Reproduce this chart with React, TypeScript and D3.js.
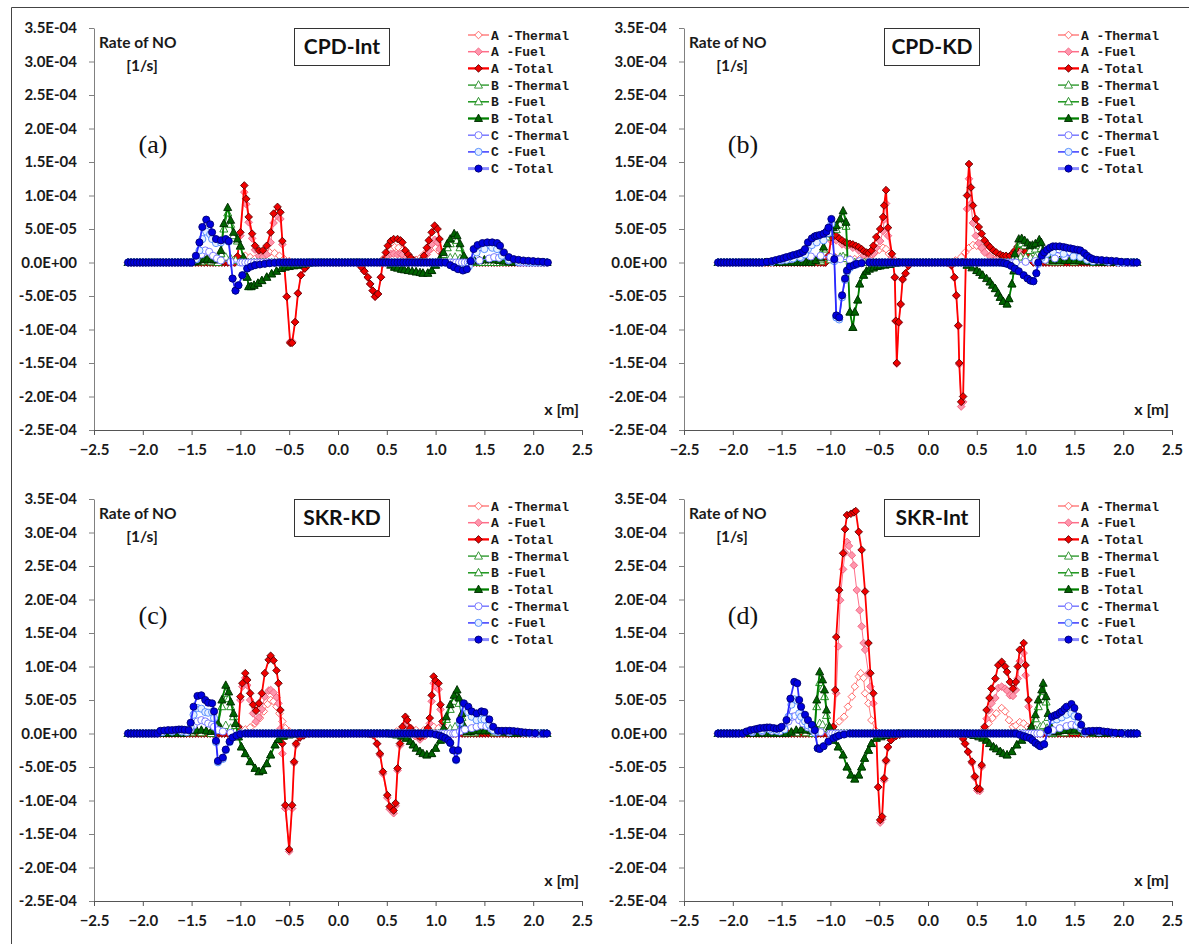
import React, { useEffect, useRef } from 'react';
import * as d3 from 'd3';

type Pt = [number, number];
type Seg = Pt[];

// values are in units of 1e-5 1/s
const W = 1189;
const H = 944;

// solution mesh along x (series sit on the baseline where they are zero)
const xMesh = d3.range(-2.15, 2.1501, 0.03);

const xTicks = [-2.5, -2.0, -1.5, -1.0, -0.5, 0.0, 0.5, 1.0, 1.5, 2.0, 2.5];
const yTicks = [-25, -20, -15, -10, -5, 0, 5, 10, 15, 20, 25, 30, 35];
const yTickLabels = ['-2.5E-04', '-2.0E-04', '-1.5E-04', '-1.0E-04', '-5.0E-05', '0.0E+00', '5.0E-05',
  '1.0E-04', '1.5E-04', '2.0E-04', '2.5E-04', '3.0E-04', '3.5E-04'];
const seriesNames = ['A -Thermal', 'A -Fuel', 'A -Total', 'B -Thermal', 'B -Fuel', 'B -Total',
  'C -Thermal', 'C -Fuel', 'C -Total'];
const panelTitles = ['CPD-Int', 'CPD-KD', 'SKR-KD', 'SKR-Int'];
const panelTags = ['(a)', '(b)', '(c)', '(d)'];

// ---- (a) CPD-Int ----
const aAT: Seg[] = [
  [[-1.05, 0], [-1.0, 0.5], [-0.95, 1.0], [-0.9, 0.8], [-0.85, 0.6], [-0.8, 0.8], [-0.75, 1.2], [-0.7, 1.5], [-0.65, 1.4], [-0.6, 1.0], [-0.55, 0.5], [-0.5, 0.2], [-0.45, 0]],
  [[0.42, 0], [0.46, 0.5], [0.5, 1.3], [0.54, 2.0], [0.58, 2.3], [0.62, 2.2], [0.66, 1.8], [0.7, 1.2], [0.75, 0.6], [0.8, 0.4], [0.85, 0.8], [0.9, 1.5], [0.95, 2.0], [1.0, 2.2], [1.04, 1.6], [1.08, 0.6], [1.12, 0]],
];
const aAF: Seg[] = [
  [[-1.06, 0], [-1.03, 0.7], [-1.0, 4.0], [-0.96, 10.5], [-0.94, 8.7], [-0.915, 6.0], [-0.88, 3.6], [-0.85, 1.9], [-0.81, 1.0], [-0.77, 0.8], [-0.73, 1.2], [-0.69, 3.0], [-0.66, 5.9], [-0.62, 6.9], [-0.59, 6.5], [-0.57, 2.7], [-0.525, -5.1], [-0.49, -11.8], [-0.47, -11.8], [-0.44, -8.9], [-0.41, -4.6], [-0.38, -1.9], [-0.34, -0.9], [-0.31, -0.4], [-0.27, 0]],
  [[0.2, 0], [0.24, -0.7], [0.27, -1.3], [0.305, -2.2], [0.33, -3.2], [0.356, -4.2], [0.38, -5.1], [0.41, -4.7], [0.44, -2.2], [0.46, -0.2], [0.49, 0.8], [0.51, 1.0], [0.54, 1.3], [0.57, 1.3], [0.61, 1.2], [0.64, 1.3], [0.66, 1.2], [0.69, 0.6], [0.72, 0.4], [0.745, 0.2], [0.78, 0], [0.85, 0], [0.88, 0.4], [0.91, 1.2], [0.93, 1.8], [0.96, 2.7], [0.99, 3.4], [1.02, 3.0], [1.04, 2.0], [1.07, 0.6], [1.1, 0], [1.13, 0]],
];
const aAX: Seg[] = [
  [[-1.06, 0], [-1.03, 0.9], [-1.0, 4.5], [-0.96, 11.5], [-0.94, 9.5], [-0.915, 6.8], [-0.88, 4.3], [-0.85, 2.5], [-0.81, 1.8], [-0.77, 1.8], [-0.73, 2.5], [-0.69, 4.5], [-0.66, 7.3], [-0.62, 8.3], [-0.59, 7.5], [-0.57, 3.2], [-0.525, -5.1], [-0.49, -12.0], [-0.47, -12.0], [-0.44, -8.9], [-0.41, -4.6], [-0.38, -1.9], [-0.34, -0.9], [-0.31, -0.4], [-0.27, 0]],
  [[0.2, 0], [0.24, -0.7], [0.27, -1.3], [0.305, -2.2], [0.33, -3.2], [0.356, -4.2], [0.38, -5.1], [0.41, -4.7], [0.44, -2.2], [0.46, 0.3], [0.49, 1.5], [0.51, 2.5], [0.54, 3.2], [0.57, 3.5], [0.61, 3.5], [0.64, 3.3], [0.66, 3.0], [0.69, 1.8], [0.72, 1.2], [0.745, 0.7], [0.78, 0.3], [0.81, 0], [0.85, 0.3], [0.88, 1.0], [0.91, 2.2], [0.93, 3.3], [0.96, 4.5], [0.99, 5.5], [1.02, 5.0], [1.04, 3.5], [1.07, 1.3], [1.1, 0.2], [1.13, 0]],
];
const aBT: Seg[] = [
  [[-1.5, 0], [-1.45, 0.2], [-1.4, 0.3], [-1.35, 0.3], [-1.3, 0.3], [-1.25, 0.3], [-1.2, 0.5], [-1.15, 0.8], [-1.1, 0.6], [-1.05, 0.3], [-1.0, 0.1], [-0.95, 0]],
  [[1.05, 0], [1.1, 0.4], [1.15, 0.7], [1.2, 0.8], [1.25, 0.6], [1.3, 0.3], [1.4, 0.2], [1.5, 0.3], [1.6, 0.3], [1.7, 0.2], [1.8, 0]],
];
const aBF: Seg[] = [
  [[-1.5, 0], [-1.4, 0.1], [-1.3, 0.1], [-1.23, 0], [-1.2, 1.3], [-1.17, 5.0], [-1.13, 7.4], [-1.1, 5.7], [-1.07, 4.0], [-1.03, 3.2], [-1.0, 2.4], [-0.97, 0.7], [-0.93, -2.2], [-0.915, -3.6], [-0.89, -3.6], [-0.86, -3.4], [-0.82, -3.1], [-0.78, -2.7], [-0.73, -2.2], [-0.68, -1.7], [-0.63, -1.3], [-0.58, -0.9], [-0.5, -0.6], [-0.41, -0.4], [-0.3, -0.1], [-0.2, 0]],
  [[0.5, 0], [0.58, -0.7], [0.65, -1.0], [0.72, -1.2], [0.8, -1.4], [0.87, -1.6], [0.92, -1.6], [0.96, -1.2], [1.0, -0.4], [1.04, 0.4], [1.08, 1.2], [1.12, 2.2], [1.15, 2.8], [1.19, 3.5], [1.22, 3.3], [1.25, 2.2], [1.29, 0.6], [1.32, 0], [1.4, 0]],
];
const aBX: Seg[] = [
  [[-1.5, 0], [-1.47, 0.1], [-1.44, 0.2], [-1.4, 0.4], [-1.37, 0.5], [-1.34, 0.5], [-1.3, 0.4], [-1.27, 0.4], [-1.25, 0.4], [-1.2, 1.8], [-1.17, 5.8], [-1.13, 8.2], [-1.1, 6.3], [-1.07, 4.5], [-1.03, 3.5], [-1.0, 2.5], [-0.97, 0.8], [-0.93, -2.2], [-0.915, -3.6], [-0.89, -3.6], [-0.86, -3.4], [-0.82, -3.1], [-0.78, -2.7], [-0.73, -2.2], [-0.68, -1.7], [-0.63, -1.3], [-0.58, -0.9], [-0.54, -0.7], [-0.5, -0.6], [-0.45, -0.5], [-0.41, -0.4], [-0.36, -0.25], [-0.3, -0.1], [-0.25, -0.05], [-0.2, 0]],
  [[0.5, 0], [0.54, -0.4], [0.58, -0.7], [0.61, -0.85], [0.65, -1.0], [0.68, -1.1], [0.72, -1.2], [0.76, -1.3], [0.8, -1.4], [0.84, -1.5], [0.87, -1.6], [0.92, -1.6], [0.96, -1.2], [1.0, -0.4], [1.04, 0.5], [1.08, 1.5], [1.12, 2.8], [1.15, 3.5], [1.19, 4.3], [1.22, 4.0], [1.25, 2.8], [1.29, 1.0], [1.32, 0.2], [1.36, 0.2], [1.4, 0.2], [1.45, 0.3], [1.5, 0.4], [1.55, 0.4], [1.6, 0.4], [1.65, 0.3], [1.7, 0.2], [1.75, 0.1], [1.8, 0]],
];
const aCT: Seg[] = [
  [[-1.5, 0], [-1.45, 0.5], [-1.4, 1.2], [-1.36, 1.8], [-1.32, 1.6], [-1.28, 1.0], [-1.24, 0.6], [-1.2, 0.3], [-1.1, 0.1], [-1.0, 0]],
  [[1.35, 0], [1.45, 0.3], [1.55, 0.6], [1.6, 0.8], [1.65, 0.7], [1.75, 0.3], [1.85, 0]],
];
const aCF: Seg[] = [
  [[-1.5, 0], [-1.456, 0.5], [-1.42, 1.8], [-1.39, 3.5], [-1.35, 4.6], [-1.31, 4.2], [-1.29, 3.5], [-1.25, 2.9], [-1.2, 3.0], [-1.15, 3.4], [-1.12, 3.1], [-1.08, -2.4], [-1.05, -4.2], [-1.02, -3.4], [-0.98, -1.9], [-0.93, -0.9], [-0.85, -0.4], [-0.7, -0.1], [-0.6, 0]],
  [[1.1, 0], [1.19, -0.7], [1.25, -1.0], [1.3, -1.1], [1.34, -0.6], [1.37, 0.3], [1.42, 1.5], [1.5, 2.0], [1.58, 2.2], [1.63, 2.0], [1.68, 1.0], [1.75, 0.4], [1.85, 0.1], [1.95, 0]],
];
const aCX: Seg[] = [
  [[-1.5, 0], [-1.456, 1.0], [-1.42, 3.0], [-1.39, 5.3], [-1.35, 6.4], [-1.31, 5.7], [-1.29, 4.5], [-1.25, 3.5], [-1.2, 3.3], [-1.15, 3.5], [-1.12, 3.2], [-1.08, -2.4], [-1.05, -4.2], [-1.02, -3.4], [-0.98, -1.9], [-0.93, -0.9], [-0.89, -0.6], [-0.85, -0.4], [-0.8, -0.3], [-0.75, -0.2], [-0.7, -0.1], [-0.65, -0.05], [-0.6, 0]],
  [[1.1, 0], [1.15, -0.4], [1.19, -0.7], [1.23, -1.0], [1.28, -1.2], [1.32, -1.0], [1.36, 0.2], [1.39, 2.0], [1.43, 2.6], [1.48, 2.9], [1.53, 3.0], [1.58, 3.0], [1.63, 2.9], [1.66, 2.5], [1.7, 1.5], [1.75, 0.8], [1.8, 0.5], [1.85, 0.4], [1.9, 0.3], [1.95, 0.25], [2.0, 0.2], [2.05, 0.15], [2.1, 0.1], [2.15, 0]],
];

// ---- (b) CPD-KD ----
const bAT: Seg[] = [
  [[-1.05, 0], [-1.0, 0.5], [-0.95, 0.8], [-0.9, 0.7], [-0.85, 0.6], [-0.8, 0.5], [-0.75, 0.5], [-0.7, 0.5], [-0.65, 0.6], [-0.6, 0.9], [-0.55, 1.4], [-0.5, 1.9], [-0.46, 2.2], [-0.43, 2.0], [-0.4, 1.3], [-0.37, 0.6], [-0.33, 0.2], [-0.28, 0]],
  [[0.2, 0], [0.28, 0.3], [0.34, 0.8], [0.38, 1.5], [0.42, 2.2], [0.46, 2.6], [0.5, 2.5], [0.55, 2.1], [0.6, 1.6], [0.65, 1.2], [0.7, 0.9], [0.75, 0.7], [0.8, 0.6], [0.85, 0.8], [0.9, 1.2], [0.95, 1.4], [1.0, 1.0], [1.05, 0.4], [1.1, 0]],
];
const bAF: Seg[] = [
  [[-1.05, 0], [-1.02, 0.6], [-0.99, 3.2], [-0.94, 3.3], [-0.88, 2.7], [-0.83, 2.4], [-0.77, 2.2], [-0.71, 1.8], [-0.66, 1.1], [-0.61, 0.6], [-0.56, 1.3], [-0.53, 2.2], [-0.49, 3.2], [-0.46, 4.7], [-0.45, 6.4], [-0.43, 8.8], [-0.41, 4.0], [-0.37, 0.8], [-0.34, -2.3], [-0.33, -8.8], [-0.32, -15.1], [-0.3, -9.0], [-0.28, -6.3], [-0.26, -2.6], [-0.23, -1.7], [-0.2, -0.5], [-0.17, 0]],
  [[0.2, 0], [0.24, -0.5], [0.27, -2.3], [0.29, -5.0], [0.31, -9.5], [0.32, -15.2], [0.34, -21.5], [0.36, -20.8], [0.4, 8.0], [0.42, 12.5], [0.44, 8.8], [0.46, 5.9], [0.49, 4.0], [0.52, 2.9], [0.55, 2.2], [0.58, 1.5], [0.635, 0.9], [0.7, 0.6], [0.77, 0.4], [0.84, 0.4], [0.89, 0.8], [0.94, 1.4], [0.98, 1.3], [1.03, 0.6], [1.08, 0]],
];
const bAX: Seg[] = [
  [[-1.05, 0], [-1.02, 1.0], [-0.99, 3.8], [-0.96, 4.0], [-0.94, 4.0], [-0.91, 3.6], [-0.88, 3.3], [-0.85, 3.0], [-0.83, 2.9], [-0.8, 2.8], [-0.77, 2.7], [-0.74, 2.5], [-0.71, 2.3], [-0.68, 2.0], [-0.66, 1.7], [-0.63, 1.5], [-0.61, 1.4], [-0.58, 1.8], [-0.56, 2.5], [-0.53, 3.8], [-0.49, 5.0], [-0.46, 6.8], [-0.45, 8.5], [-0.43, 10.8], [-0.41, 5.2], [-0.37, 1.3], [-0.34, -2.2], [-0.33, -8.7], [-0.32, -15.0], [-0.3, -8.9], [-0.28, -6.2], [-0.26, -2.5], [-0.23, -1.6], [-0.2, -0.5], [-0.17, 0]],
  [[0.2, 0], [0.24, -0.4], [0.27, -2.2], [0.29, -4.9], [0.31, -9.4], [0.32, -15.0], [0.34, -20.8], [0.36, -20.0], [0.4, 10.0], [0.42, 14.7], [0.44, 11.2], [0.46, 8.5], [0.49, 6.5], [0.52, 5.3], [0.55, 4.3], [0.58, 3.3], [0.61, 2.7], [0.635, 2.3], [0.67, 1.8], [0.7, 1.5], [0.74, 1.2], [0.77, 1.0], [0.8, 1.0], [0.84, 1.0], [0.87, 1.4], [0.89, 1.8], [0.92, 2.4], [0.94, 2.8], [0.96, 2.6], [0.98, 2.3], [1.0, 1.6], [1.03, 1.0], [1.05, 0.5], [1.08, 0]],
];
const bBT: Seg[] = [
  [[-1.2, 0], [-1.1, 0.2], [-1.0, 0.4], [-0.95, 0.6], [-0.9, 0.8], [-0.87, 0.9], [-0.84, 0.6], [-0.8, 0.2], [-0.75, 0]],
  [[0.85, 0], [0.9, 0.4], [0.95, 0.8], [1.0, 0.8], [1.05, 0.7], [1.1, 0.8], [1.15, 0.9], [1.2, 0.5], [1.25, 0.2], [1.3, 0.1], [1.5, 0.2], [1.7, 0.1], [1.8, 0]],
];
const bBF: Seg[] = [
  [[-1.2, 0], [-1.1, 0.5], [-1.07, 2.0], [-1.04, 3.8], [-1.0, 4.4], [-0.94, 4.9], [-0.9, 5.7], [-0.87, 6.8], [-0.84, 5.4], [-0.8, -7.4], [-0.77, -9.7], [-0.75, -7.4], [-0.72, -5.6], [-0.7, -3.2], [-0.66, -1.9], [-0.63, -1.3], [-0.56, -0.8], [-0.49, -0.5], [-0.39, -0.3], [-0.3, 0]],
  [[0.35, 0], [0.4, -0.4], [0.5, -1.2], [0.56, -1.9], [0.635, -2.9], [0.69, -3.9], [0.74, -5.2], [0.77, -5.8], [0.81, -6.2], [0.83, -5.4], [0.86, -3.2], [0.88, -1.3], [0.89, 0.9], [0.93, 2.7], [0.96, 2.8], [0.99, 2.5], [1.045, 1.8], [1.1, 2.0], [1.14, 2.5], [1.16, 2.1], [1.18, 1.3], [1.22, 0.6], [1.28, 0.2], [1.35, 0.1], [1.5, 0.1], [1.7, 0], [1.8, 0]],
];
const bBX: Seg[] = [
  [[-1.2, 0], [-1.15, 0.3], [-1.1, 0.7], [-1.07, 2.3], [-1.04, 4.3], [-1.0, 4.9], [-0.97, 5.2], [-0.94, 5.5], [-0.9, 6.5], [-0.87, 7.7], [-0.84, 6.0], [-0.8, -7.4], [-0.77, -9.7], [-0.75, -7.4], [-0.72, -5.6], [-0.7, -3.2], [-0.66, -1.9], [-0.63, -1.3], [-0.6, -1.0], [-0.56, -0.8], [-0.52, -0.6], [-0.49, -0.5], [-0.44, -0.4], [-0.39, -0.3], [-0.34, -0.15], [-0.3, 0]],
  [[0.35, 0], [0.4, -0.4], [0.45, -0.8], [0.5, -1.2], [0.53, -1.5], [0.56, -1.9], [0.6, -2.4], [0.635, -2.9], [0.66, -3.4], [0.69, -3.9], [0.72, -4.6], [0.74, -5.2], [0.77, -5.8], [0.81, -6.2], [0.83, -5.4], [0.86, -3.2], [0.88, -1.2], [0.89, 1.3], [0.93, 3.5], [0.96, 3.6], [0.99, 3.3], [1.02, 2.9], [1.045, 2.5], [1.07, 2.6], [1.1, 2.8], [1.14, 3.4], [1.16, 3.0], [1.18, 1.8], [1.22, 0.8], [1.25, 0.5], [1.28, 0.3], [1.35, 0.3], [1.4, 0.3], [1.45, 0.3], [1.5, 0.3], [1.55, 0.25], [1.6, 0.2], [1.65, 0.15], [1.7, 0.1], [1.75, 0.05], [1.8, 0]],
];
const bCT: Seg[] = [
  [[-1.7, 0], [-1.6, 0.1], [-1.5, 0.3], [-1.4, 0.5], [-1.3, 0.7], [-1.2, 0.9], [-1.1, 1.0], [-1.0, 0.8], [-0.95, 0.6], [-0.9, 0.5], [-0.8, 0.4], [-0.7, 0.2], [-0.6, 0.1], [-0.5, 0]],
  [[0.9, 0], [1.0, 0.1], [1.1, 0.2], [1.2, 0.4], [1.3, 0.6], [1.4, 0.9], [1.5, 1.1], [1.58, 1.0], [1.65, 0.6], [1.75, 0.3], [1.85, 0.1], [1.95, 0]],
];
const bCF: Seg[] = [
  [[-1.7, 0], [-1.6, 0.1], [-1.52, 0.3], [-1.45, 0.4], [-1.38, 0.6], [-1.31, 0.8], [-1.26, 1.2], [-1.23, 2.0], [-1.19, 2.6], [-1.14, 3.0], [-1.07, 3.3], [-1.02, 4.4], [-0.99, 5.8], [-0.96, 0.2], [-0.94, -8.2], [-0.91, -8.5], [-0.88, -5.2], [-0.85, -2.6], [-0.83, -1.4], [-0.8, -0.8], [-0.73, -0.3], [-0.6, 0]],
  [[0.75, 0], [0.81, -0.2], [0.89, -0.9], [0.98, -1.9], [1.05, -2.7], [1.08, -2.8], [1.11, -1.6], [1.13, -0.2], [1.165, 0.7], [1.22, 1.3], [1.28, 1.6], [1.39, 1.3], [1.49, 0.9], [1.56, 0.8], [1.63, 0.4], [1.69, 0.2], [1.83, 0.2], [1.95, 0]],
];
const bCX: Seg[] = [
  [[-1.7, 0], [-1.65, 0.1], [-1.6, 0.2], [-1.56, 0.35], [-1.52, 0.5], [-1.48, 0.65], [-1.45, 0.8], [-1.41, 0.95], [-1.38, 1.1], [-1.34, 1.25], [-1.31, 1.4], [-1.28, 1.6], [-1.26, 2.0], [-1.23, 3.0], [-1.19, 3.6], [-1.16, 3.9], [-1.14, 4.0], [-1.11, 4.1], [-1.07, 4.3], [-1.04, 4.6], [-1.02, 5.2], [-0.99, 6.5], [-0.96, 0.5], [-0.94, -7.9], [-0.91, -8.2], [-0.88, -4.9], [-0.85, -2.4], [-0.83, -1.2], [-0.8, -0.6], [-0.76, -0.4], [-0.73, -0.2], [-0.68, -0.1], [-0.6, 0]],
  [[0.75, 0], [0.78, -0.1], [0.81, -0.2], [0.85, -0.5], [0.89, -0.9], [0.93, -1.3], [0.98, -1.9], [1.02, -2.4], [1.05, -2.7], [1.08, -2.8], [1.11, -1.6], [1.13, 0], [1.165, 1.0], [1.19, 1.5], [1.22, 1.9], [1.25, 2.2], [1.28, 2.4], [1.31, 2.4], [1.35, 2.4], [1.39, 2.3], [1.42, 2.2], [1.46, 2.1], [1.49, 2.0], [1.53, 1.9], [1.56, 1.8], [1.6, 1.4], [1.63, 1.0], [1.66, 0.7], [1.69, 0.5], [1.73, 0.4], [1.78, 0.35], [1.83, 0.3], [1.88, 0.25], [1.93, 0.2], [1.98, 0.1], [2.04, 0.05], [2.1, 0]],
];

// ---- (c) SKR-KD ----
const cAT: Seg[] = [
  [[-1.05, 0], [-1.0, 0.3], [-0.95, 0.6], [-0.9, 0.9], [-0.85, 1.5], [-0.8, 2.3], [-0.76, 3.3], [-0.72, 4.4], [-0.69, 5.0], [-0.66, 4.8], [-0.63, 4.0], [-0.6, 3.0], [-0.57, 1.8], [-0.54, 0.8], [-0.5, 0.3], [-0.45, 0]],
  [[0.5, 0], [0.6, 0.3], [0.66, 0.8], [0.7, 1.0], [0.75, 0.8], [0.8, 0.5], [0.88, 0.5], [0.94, 0.8], [0.98, 1.0], [1.03, 0.8], [1.08, 0.3], [1.12, 0]],
];
const cAF: Seg[] = [
  [[-1.05, 0], [-1.02, 0.8], [-1.0, 5.0], [-0.98, 7.0], [-0.95, 8.3], [-0.93, 7.2], [-0.9, 5.0], [-0.87, 3.0], [-0.84, 1.8], [-0.81, 2.4], [-0.78, 3.6], [-0.75, 5.5], [-0.71, 6.4], [-0.69, 6.5], [-0.66, 6.1], [-0.63, 5.4], [-0.61, 4.5], [-0.59, 0.7], [-0.57, -3.0], [-0.54, -11.2], [-0.5, -17.6], [-0.47, -11.2], [-0.45, -4.4], [-0.43, -1.7], [-0.39, -0.6], [-0.3, 0]],
  [[0.3, 0], [0.36, -0.3], [0.4, -1.6], [0.43, -3.2], [0.46, -6.0], [0.505, -9.6], [0.53, -11.3], [0.57, -11.9], [0.59, -10.8], [0.61, -5.5], [0.635, -1.8], [0.66, 0.3], [0.69, 1.5], [0.71, 1.1], [0.74, 0.1], [0.79, -0.4], [0.84, -0.9], [0.89, -0.4], [0.94, 1.5], [0.96, 4.8], [0.98, 7.5], [1.0, 7.0], [1.03, 6.6], [1.05, 3.6], [1.07, 1.3], [1.1, 0.3], [1.15, 0]],
];
const cAX: Seg[] = [
  [[-1.05, 0], [-1.02, 1.0], [-1.0, 5.5], [-0.98, 7.5], [-0.95, 9.0], [-0.93, 8.0], [-0.9, 6.0], [-0.87, 4.3], [-0.84, 3.4], [-0.81, 4.5], [-0.78, 6.0], [-0.75, 9.0], [-0.71, 11.0], [-0.69, 11.6], [-0.66, 10.9], [-0.63, 9.4], [-0.61, 7.5], [-0.59, 3.5], [-0.57, -1.5], [-0.54, -10.7], [-0.5, -17.3], [-0.47, -10.7], [-0.45, -4.2], [-0.43, -1.5], [-0.39, -0.6], [-0.35, -0.3], [-0.3, 0]],
  [[0.3, 0], [0.33, -0.1], [0.36, -0.2], [0.4, -1.5], [0.43, -3.0], [0.46, -5.7], [0.505, -9.2], [0.53, -10.9], [0.57, -11.5], [0.59, -10.4], [0.61, -5.2], [0.635, -1.5], [0.66, 1.0], [0.69, 2.5], [0.71, 2.0], [0.74, 0.8], [0.77, 0.2], [0.79, 0], [0.82, -0.3], [0.84, -0.5], [0.87, -0.3], [0.89, 0], [0.92, 0.8], [0.94, 2.3], [0.96, 5.7], [0.98, 8.5], [1.0, 7.9], [1.03, 7.5], [1.05, 4.3], [1.07, 1.8], [1.1, 0.5], [1.15, 0]],
];
const cBT: Seg[] = [
  [[-1.6, 0], [-1.5, 0.3], [-1.45, 0.4], [-1.4, 0.4], [-1.35, 0.3], [-1.3, 0.2], [-1.25, 0.4], [-1.2, 0.8], [-1.15, 1.2], [-1.1, 0.8], [-1.05, 0.4], [-1.0, 0.1], [-0.95, 0]],
  [[1.05, 0], [1.1, 0.3], [1.15, 0.7], [1.2, 1.0], [1.25, 0.8], [1.3, 0.4], [1.4, 0.3], [1.5, 0.4], [1.6, 0.3], [1.7, 0.1], [1.8, 0]],
];
const cBF: Seg[] = [
  [[-1.6, 0], [-1.5, 0.1], [-1.4, 0.1], [-1.3, 0], [-1.23, 1.0], [-1.19, 4.0], [-1.15, 6.0], [-1.12, 5.2], [-1.1, 4.0], [-1.07, 2.5], [-1.05, 1.2], [-1.02, -0.5], [-0.99, -2.0], [-0.95, -3.0], [-0.9, -4.2], [-0.85, -5.2], [-0.81, -5.7], [-0.77, -5.5], [-0.73, -4.5], [-0.69, -3.2], [-0.645, -1.7], [-0.61, -0.9], [-0.56, -0.4], [-0.5, -0.2], [-0.4, 0]],
  [[0.5, 0], [0.6, -0.2], [0.7, -0.7], [0.77, -1.7], [0.84, -2.7], [0.91, -3.2], [0.96, -3.0], [1.0, -2.2], [1.05, -1.0], [1.08, 0.6], [1.11, 2.1], [1.15, 3.6], [1.19, 4.8], [1.22, 5.5], [1.24, 4.5], [1.27, 2.4], [1.29, 0.8], [1.32, 0.1], [1.4, 0.1], [1.6, 0.1], [1.8, 0]],
];
const cBX: Seg[] = [
  [[-1.6, 0], [-1.55, 0.2], [-1.5, 0.4], [-1.45, 0.5], [-1.4, 0.5], [-1.35, 0.4], [-1.3, 0.3], [-1.26, 0.5], [-1.23, 1.5], [-1.19, 5.0], [-1.15, 7.2], [-1.12, 6.2], [-1.1, 4.7], [-1.07, 3.0], [-1.05, 1.5], [-1.02, -0.5], [-0.99, -2.0], [-0.95, -3.0], [-0.9, -4.2], [-0.85, -5.2], [-0.81, -5.7], [-0.77, -5.5], [-0.73, -4.5], [-0.69, -3.2], [-0.645, -1.7], [-0.61, -0.9], [-0.56, -0.4], [-0.5, -0.2], [-0.45, -0.1], [-0.4, 0]],
  [[0.5, 0], [0.55, -0.1], [0.6, -0.2], [0.65, -0.4], [0.7, -0.7], [0.74, -1.2], [0.77, -1.7], [0.8, -2.2], [0.84, -2.7], [0.87, -3.0], [0.91, -3.2], [0.96, -3.0], [1.0, -2.2], [1.05, -1.0], [1.08, 0.8], [1.11, 2.5], [1.15, 4.3], [1.19, 5.7], [1.22, 6.5], [1.24, 5.3], [1.27, 3.0], [1.29, 1.2], [1.32, 0.3], [1.36, 0.3], [1.4, 0.4], [1.45, 0.4], [1.5, 0.4], [1.55, 0.4], [1.6, 0.4], [1.65, 0.3], [1.7, 0.2], [1.75, 0.1], [1.8, 0]],
];
const cCT: Seg[] = [
  [[-1.85, 0], [-1.8, 0.2], [-1.7, 0.3], [-1.6, 0.3], [-1.55, 0.4], [-1.51, 0.6], [-1.48, 1.2], [-1.44, 1.8], [-1.4, 2.0], [-1.36, 1.8], [-1.33, 1.5], [-1.29, 1.3], [-1.27, 1.0], [-1.23, 0.5], [-1.18, 0.3], [-1.1, 0.1], [-1.0, 0]],
  [[1.2, 0], [1.25, 0.3], [1.3, 0.6], [1.37, 0.8], [1.42, 1.0], [1.47, 1.2], [1.52, 1.1], [1.57, 0.7], [1.63, 0.3], [1.75, 0.2], [1.9, 0.1], [2.0, 0]],
];
const cCF: Seg[] = [
  [[-1.85, 0], [-1.8, 0.2], [-1.7, 0.3], [-1.6, 0.3], [-1.55, 0.2], [-1.51, 1.0], [-1.48, 2.8], [-1.44, 3.8], [-1.4, 3.7], [-1.36, 3.2], [-1.33, 3.1], [-1.29, 3.2], [-1.27, 2.3], [-1.25, -1.3], [-1.23, -4.3], [-1.18, -3.8], [-1.15, -2.5], [-1.11, -1.3], [-1.08, -0.6], [-1.04, -0.3], [-0.95, 0]],
  [[0.95, 0], [1.04, -0.3], [1.1, -0.7], [1.15, -1.4], [1.18, -2.5], [1.21, -4.0], [1.23, -2.6], [1.25, 1.6], [1.29, 3.9], [1.335, 3.2], [1.37, 2.5], [1.42, 2.0], [1.47, 2.1], [1.5, 2.1], [1.55, 1.3], [1.59, 0.5], [1.64, 0.2], [1.76, 0.2], [1.96, 0], [2.05, 0]],
];
const cCX: Seg[] = [
  [[-1.85, 0], [-1.82, 0.4], [-1.78, 0.45], [-1.74, 0.5], [-1.7, 0.5], [-1.66, 0.55], [-1.63, 0.6], [-1.6, 0.6], [-1.57, 0.55], [-1.53, 0.5], [-1.51, 1.6], [-1.48, 4.0], [-1.44, 5.6], [-1.4, 5.7], [-1.36, 5.0], [-1.33, 4.6], [-1.29, 4.5], [-1.27, 3.3], [-1.25, -1.1], [-1.23, -4.1], [-1.18, -3.6], [-1.15, -2.4], [-1.11, -1.2], [-1.08, -0.6], [-1.04, -0.3], [-1.0, -0.1], [-0.95, 0]],
  [[0.95, 0], [1.0, -0.15], [1.04, -0.3], [1.07, -0.5], [1.1, -0.7], [1.13, -1.0], [1.15, -1.4], [1.18, -2.5], [1.21, -3.9], [1.23, -2.5], [1.25, 2.0], [1.29, 4.5], [1.335, 4.0], [1.37, 3.3], [1.42, 3.0], [1.47, 3.3], [1.5, 3.2], [1.55, 2.1], [1.59, 1.0], [1.64, 0.4], [1.68, 0.4], [1.72, 0.4], [1.76, 0.4], [1.8, 0.35], [1.84, 0.3], [1.88, 0.2], [1.92, 0.15], [1.96, 0.1], [2.02, 0.05], [2.1, 0]],
];

// ---- (d) SKR-Int ----
const dAT: Seg[] = [
  [[-1.0, 0], [-0.97, 0.5], [-0.91, 1.8], [-0.86, 2.5], [-0.82, 4.0], [-0.78, 5.5], [-0.75, 7.0], [-0.71, 8.5], [-0.69, 9.0], [-0.66, 8.3], [-0.645, 6.0], [-0.61, 4.5], [-0.58, 2.0], [-0.54, 0.5], [-0.5, 0]],
  [[0.5, 0], [0.55, 0.3], [0.58, 0.8], [0.62, 1.5], [0.66, 2.3], [0.7, 3.0], [0.755, 3.8], [0.79, 3.3], [0.83, 2.0], [0.87, 1.0], [0.9, 1.2], [0.94, 1.7], [0.98, 1.5], [1.02, 1.0], [1.06, 0.3], [1.1, 0]],
];
const dAF: Seg[] = [
  [[-1.0, 0], [-0.97, 0.5], [-0.94, 6.0], [-0.92, 13.0], [-0.9, 19.9], [-0.87, 24.5], [-0.85, 27.0], [-0.83, 28.6], [-0.81, 28.0], [-0.78, 26.6], [-0.76, 25.1], [-0.73, 21.4], [-0.7, 18.4], [-0.68, 16.0], [-0.66, 13.5], [-0.645, 12.5], [-0.61, 9.0], [-0.59, 7.0], [-0.56, 4.5], [-0.53, -0.5], [-0.51, -8.0], [-0.49, -13.3], [-0.47, -12.8], [-0.45, -7.0], [-0.43, -4.2], [-0.41, -2.1], [-0.38, -1.0], [-0.33, -0.4], [-0.25, 0]],
  [[0.3, 0], [0.33, -0.1], [0.38, -1.6], [0.41, -2.8], [0.45, -4.4], [0.48, -6.6], [0.505, -8.5], [0.53, -8.6], [0.55, -5.0], [0.58, 0.2], [0.6, 2.2], [0.63, 3.5], [0.65, 4.5], [0.69, 5.3], [0.72, 6.8], [0.755, 7.0], [0.79, 6.7], [0.81, 6.4], [0.84, 5.7], [0.87, 5.6], [0.9, 6.5], [0.92, 8.2], [0.94, 10.8], [0.98, 12.0], [1.0, 8.7], [1.03, 4.0], [1.06, 0.7], [1.08, 0], [1.12, 0]],
];
const dAX: Seg[] = [
  [[-1.0, 0], [-0.97, 1.0], [-0.95, 6.5], [-0.94, 14.4], [-0.91, 21.4], [-0.87, 26.9], [-0.85, 30.5], [-0.83, 32.6], [-0.79, 32.8], [-0.76, 33.0], [-0.74, 33.2], [-0.71, 30.1], [-0.68, 27.4], [-0.645, 21.2], [-0.61, 13.5], [-0.59, 9.0], [-0.56, 6.0], [-0.53, 0], [-0.51, -8.0], [-0.49, -12.9], [-0.47, -12.4], [-0.45, -6.7], [-0.43, -4.0], [-0.41, -2.0], [-0.38, -1.0], [-0.33, -0.4], [-0.29, -0.2], [-0.25, 0]],
  [[0.3, 0], [0.33, 0], [0.36, -0.8], [0.38, -1.5], [0.41, -2.7], [0.45, -4.2], [0.48, -6.4], [0.505, -8.2], [0.53, -8.3], [0.55, -4.7], [0.58, 1.0], [0.6, 3.5], [0.63, 5.3], [0.65, 6.7], [0.69, 8.2], [0.72, 10.2], [0.755, 10.7], [0.79, 10.0], [0.81, 9.2], [0.84, 7.7], [0.87, 6.7], [0.9, 7.7], [0.92, 10.0], [0.94, 12.5], [0.98, 13.5], [1.0, 10.2], [1.03, 5.0], [1.06, 1.0], [1.08, 0], [1.12, 0]],
];
const dBT: Seg[] = [
  [[-1.45, 0], [-1.4, 0.2], [-1.35, 0.4], [-1.3, 0.5], [-1.25, 0.4], [-1.2, 0.5], [-1.16, 0.8], [-1.11, 1.5], [-1.08, 1.3], [-1.04, 0.8], [-1.0, 0.3], [-0.95, 0]],
  [[1.0, 0], [1.06, 0.3], [1.1, 0.6], [1.15, 1.0], [1.18, 1.2], [1.22, 0.8], [1.26, 0.4], [1.35, 0.2], [1.5, 0.3], [1.6, 0.2], [1.7, 0]],
];
const dBF: Seg[] = [
  [[-1.45, 0], [-1.35, 0.1], [-1.25, 0.1], [-1.18, 0], [-1.16, 0.3], [-1.14, 4.0], [-1.11, 7.6], [-1.08, 6.7], [-1.06, 5.5], [-1.04, 2.7], [-1.01, 0.6], [-0.97, -1.0], [-0.92, -2.0], [-0.87, -3.2], [-0.83, -5.0], [-0.79, -6.2], [-0.75, -6.8], [-0.71, -6.2], [-0.68, -5.0], [-0.65, -3.7], [-0.61, -2.5], [-0.58, -1.5], [-0.53, -0.7], [-0.43, -0.3], [-0.3, 0]],
  [[0.4, 0], [0.47, -0.3], [0.6, -1.0], [0.67, -2.0], [0.74, -2.7], [0.81, -3.2], [0.86, -2.7], [0.91, -1.7], [0.96, -1.0], [1.0, -0.5], [1.06, 0.7], [1.1, 2.2], [1.13, 4.0], [1.165, 5.5], [1.18, 6.3], [1.21, 4.7], [1.23, 2.4], [1.26, 0.7], [1.28, 0], [1.4, 0.1], [1.6, 0.1], [1.7, 0]],
];
const dBX: Seg[] = [
  [[-1.45, 0], [-1.4, 0.2], [-1.35, 0.5], [-1.3, 0.6], [-1.25, 0.5], [-1.2, 0.4], [-1.16, 1.0], [-1.14, 5.0], [-1.11, 9.2], [-1.08, 8.0], [-1.06, 6.5], [-1.04, 3.5], [-1.01, 1.0], [-0.97, -1.0], [-0.92, -2.0], [-0.87, -3.2], [-0.83, -5.0], [-0.79, -6.2], [-0.75, -6.8], [-0.71, -6.2], [-0.68, -5.0], [-0.65, -3.7], [-0.61, -2.5], [-0.58, -1.5], [-0.53, -0.7], [-0.48, -0.5], [-0.43, -0.3], [-0.37, -0.15], [-0.3, 0]],
  [[0.4, 0], [0.44, -0.15], [0.47, -0.3], [0.52, -0.5], [0.56, -0.7], [0.6, -1.0], [0.63, -1.5], [0.67, -2.0], [0.7, -2.3], [0.74, -2.7], [0.77, -3.0], [0.81, -3.2], [0.86, -2.7], [0.91, -1.7], [0.96, -1.0], [1.0, -0.5], [1.03, 0.2], [1.06, 1.0], [1.1, 2.8], [1.13, 5.0], [1.165, 6.5], [1.18, 7.5], [1.21, 5.5], [1.23, 3.0], [1.26, 1.0], [1.28, 0.2], [1.32, 0.3], [1.35, 0.4], [1.4, 0.45], [1.45, 0.5], [1.5, 0.5], [1.55, 0.5], [1.6, 0.35], [1.65, 0.2], [1.7, 0.1], [1.75, 0]],
];
const dCT: Seg[] = [
  [[-1.9, 0], [-1.8, 0.2], [-1.7, 0.3], [-1.6, 0.4], [-1.52, 0.3], [-1.47, 0.8], [-1.43, 1.8], [-1.39, 2.5], [-1.36, 2.6], [-1.32, 2.0], [-1.28, 1.5], [-1.23, 0.9], [-1.18, 0.5], [-1.1, 0.2], [-1.0, 0]],
  [[1.15, 0], [1.23, 0.2], [1.28, 0.5], [1.35, 0.8], [1.42, 1.1], [1.47, 1.3], [1.52, 1.2], [1.57, 0.7], [1.63, 0.3], [1.75, 0.2], [1.9, 0.1], [2.0, 0]],
];
const dCF: Seg[] = [
  [[-1.9, 0], [-1.8, 0.3], [-1.7, 0.5], [-1.62, 0.6], [-1.55, 0.4], [-1.47, 0.6], [-1.43, 2.5], [-1.4, 4.3], [-1.37, 5.1], [-1.34, 4.9], [-1.32, 3.0], [-1.3, 2.5], [-1.26, 1.8], [-1.23, 1.2], [-1.19, 0.8], [-1.16, 0.1], [-1.13, -2.2], [-1.11, -2.3], [-1.07, -1.9], [-1.02, -1.2], [-0.97, -0.7], [-0.91, -0.3], [-0.8, 0]],
  [[0.9, 0], [0.98, -0.3], [1.045, -0.7], [1.1, -1.4], [1.15, -1.9], [1.19, -1.6], [1.23, 0.3], [1.27, 2.0], [1.32, 2.1], [1.37, 2.4], [1.42, 2.8], [1.47, 3.0], [1.5, 2.6], [1.54, 1.7], [1.57, 0.9], [1.61, 0.1], [1.76, 0.2], [1.9, 0], [2.0, 0]],
];
const dCX: Seg[] = [
  [[-1.9, 0], [-1.86, 0.3], [-1.82, 0.5], [-1.78, 0.6], [-1.75, 0.7], [-1.72, 0.8], [-1.68, 0.85], [-1.65, 0.9], [-1.62, 0.9], [-1.58, 0.8], [-1.55, 0.7], [-1.52, 0.8], [-1.5, 1.0], [-1.45, 2.0], [-1.41, 5.2], [-1.37, 7.7], [-1.34, 7.5], [-1.32, 5.0], [-1.3, 4.0], [-1.26, 2.8], [-1.23, 2.0], [-1.19, 1.3], [-1.16, 0.5], [-1.13, -2.2], [-1.11, -2.3], [-1.07, -1.9], [-1.02, -1.2], [-0.97, -0.7], [-0.94, -0.5], [-0.91, -0.3], [-0.86, -0.15], [-0.8, 0]],
  [[0.9, 0], [0.94, -0.2], [0.98, -0.4], [1.01, -0.55], [1.045, -0.7], [1.07, -1.0], [1.1, -1.4], [1.13, -1.7], [1.15, -1.9], [1.19, -1.6], [1.23, 0.5], [1.27, 2.5], [1.3, 2.7], [1.32, 2.8], [1.35, 3.1], [1.37, 3.3], [1.4, 3.7], [1.42, 4.0], [1.47, 4.4], [1.5, 3.8], [1.54, 2.5], [1.57, 1.3], [1.61, 0.3], [1.65, 0.35], [1.69, 0.4], [1.73, 0.4], [1.76, 0.4], [1.8, 0.3], [1.84, 0.25], [1.88, 0.15], [1.92, 0.1], [1.98, 0.05], [2.05, 0]],
];

const panelSeries: Seg[][][] = [
  [aAT, aAF, aAX, aBT, aBF, aBX, aCT, aCF, aCX],
  [bAT, bAF, bAX, bBT, bBF, bBX, bCT, bCF, bCX],
  [cAT, cAF, cAX, cBT, cBF, cBX, cCT, cCF, cCX],
  [dAT, dAF, dAX, dBT, dBF, dBX, dCT, dCF, dCX],
];

// panel placement: x of the value axis and top of the plot
const panelPos = [
  { ax: 94, top: 28 },
  { ax: 684, top: 28 },
  { ax: 94, top: 499 },
  { ax: 684, top: 499 },
];

type Style = { line: string; lw: number; shape: string; fill: string; stroke: string };
const styles: Style[] = [
  { line: '#ff8080', lw: 1, shape: 'diamond', fill: '#ffffff', stroke: '#ff5a5a' },
  { line: '#ff6f8a', lw: 1, shape: 'diamond', fill: '#ff96ad', stroke: '#f0607c' },
  { line: '#ff0000', lw: 1.8, shape: 'diamond', fill: '#f00000', stroke: '#5a0000' },
  { line: '#3aa03a', lw: 1, shape: 'triangle', fill: '#ffffff', stroke: '#2a902a' },
  { line: '#1a961a', lw: 1, shape: 'triangle', fill: '#ffffff', stroke: '#138513' },
  { line: '#008000', lw: 1.8, shape: 'triangle', fill: '#006400', stroke: '#002800' },
  { line: '#7a7aff', lw: 1, shape: 'circle', fill: '#ffffff', stroke: '#6c6cff' },
  { line: '#3c3cff', lw: 1, shape: 'circle', fill: '#e6f0ff', stroke: '#4a86ff' },
  { line: '#2a2aff', lw: 1.8, shape: 'circle', fill: '#0000e0', stroke: '#000070' },
];

const markerPath = (shape: string): string => {
  if (shape === 'diamond') return 'M0,-3.8L3.8,0L0,3.8L-3.8,0Z';
  if (shape === 'triangle') return 'M0,-4.4L4,3L-4,3Z';
  return d3.symbol(d3.symbolCircle, 40)() as string;
};

function buildSeries(segs: Seg[]): Pt[] {
  const covered = (x: number) => segs.some(s => x >= s[0][0] - 0.015 && x <= s[s.length - 1][0] + 0.015);
  const pts: Pt[] = xMesh.filter(x => !covered(x)).map(x => [x, 0] as Pt);
  segs.forEach(s => pts.push(...s));
  return pts.sort((a, b) => a[0] - b[0]);
}

const sans = 'Lato, "Open Sans", sans-serif';

export default function App() {
  const svgRef = useRef<SVGSVGElement>(null);

  useEffect(() => {
    if (!svgRef.current) return;
    const svg = d3.select(svgRef.current);
    svg.selectAll('*').remove();

    svg.append('rect').attr('width', W).attr('height', H).attr('fill', '#fff');
    // frame edge visible at top and left
    svg.append('path').attr('d', `M11.5,${H} V7.5 H${W}`).attr('fill', 'none').attr('stroke', '#444').attr('stroke-width', 1);

    panelPos.forEach((p, pi) => {
      const g = svg.append('g');
      const x = d3.scaleLinear().domain([-2.5, 2.5]).range([p.ax, p.ax + 488]);
      const y = d3.scaleLinear().domain([-25, 35]).range([p.top + 402, p.top]);

      // y axis
      const yAxis = d3.axisLeft(y).tickValues(yTicks).tickSize(5).tickSizeOuter(0).tickPadding(12)
        .tickFormat((_, i) => yTickLabels[i]);
      const ya = g.append('g').attr('transform', `translate(${p.ax},0)`).call(yAxis);
      ya.select('.domain').attr('stroke', '#808080');
      ya.selectAll('.tick line').attr('stroke', '#808080');
      ya.selectAll('.tick text').attr('fill', '#1a1a1a').style('font-family', sans)
        .style('font-weight', 700).style('font-size', '15px');

      // x axis
      const xAxis = d3.axisBottom(x).tickValues(xTicks).tickSize(5).tickSizeOuter(0).tickPadding(9)
        .tickFormat(d => d3.format('.1f')(d as number));
      const xa = g.append('g').attr('transform', `translate(0,${y(-25)})`).call(xAxis);
      xa.select('.domain').attr('stroke', '#555');
      xa.selectAll('.tick line').attr('stroke', '#555');
      xa.selectAll('.tick text').attr('fill', '#1a1a1a').style('font-family', sans)
        .style('font-weight', 700).style('font-size', '15px');

      // series
      const line = d3.line<Pt>().x(d => x(d[0])).y(d => y(d[1]));
      panelSeries[pi].forEach((segs, si) => {
        const st = styles[si];
        const pts = buildSeries(segs);
        g.append('path').datum(pts).attr('d', line).attr('fill', 'none')
          .attr('stroke', st.line).attr('stroke-width', st.lw).attr('stroke-linejoin', 'round');
        g.append('g').selectAll('path').data(pts).join('path')
          .attr('d', markerPath(st.shape))
          .attr('transform', d => `translate(${x(d[0])},${y(d[1])})`)
          .attr('fill', st.fill).attr('stroke', st.stroke).attr('stroke-width', 0.9);
      });

      // axis captions
      g.append('text').attr('x', p.ax + 5).attr('y', p.top + 20).text('Rate of NO')
        .style('font-family', sans).style('font-weight', 700).style('font-size', '15.5px').attr('fill', '#1a1a1a');
      g.append('text').attr('x', p.ax + 48).attr('y', p.top + 43).attr('text-anchor', 'middle').text('[1/s]')
        .style('font-family', sans).style('font-weight', 700).style('font-size', '15.5px').attr('fill', '#1a1a1a');
      g.append('text').attr('x', p.ax + 485).attr('y', p.top + 387).attr('text-anchor', 'end').text('x [m]')
        .style('font-family', sans).style('font-weight', 700).style('font-size', '16px').attr('fill', '#1a1a1a');

      // panel tag
      g.append('text').attr('x', p.ax + 59).attr('y', p.top + 125).attr('text-anchor', 'middle').text(panelTags[pi])
        .style('font-family', '"Liberation Serif", "DejaVu Serif", serif').style('font-size', '26px').attr('fill', '#111');

      // title box
      g.append('rect').attr('x', p.ax + 200.5).attr('y', p.top + 0.5).attr('width', 95).attr('height', 37)
        .attr('fill', '#fff').attr('stroke', '#333').attr('stroke-width', 1);
      g.append('text').attr('x', p.ax + 248).attr('y', p.top + 26).attr('text-anchor', 'middle').text(panelTitles[pi])
        .style('font-family', sans).style('font-weight', 700).style('font-size', '21px').attr('fill', '#111');

      // legend
      seriesNames.forEach((name, si) => {
        const st = styles[si];
        const ry = p.top + 7 + si * 16.7;
        const lx0 = p.ax + 374;
        const lx1 = p.ax + 395;
        g.append('line').attr('x1', lx0).attr('x2', lx1).attr('y1', ry).attr('y2', ry)
          .attr('stroke', si === 8 ? '#8c8cff' : st.line).attr('stroke-width', si === 8 ? 3 : st.lw + 0.5);
        g.append('path').attr('d', markerPath(st.shape)).attr('transform', `translate(${(lx0 + lx1) / 2},${ry})`)
          .attr('fill', st.fill).attr('stroke', st.stroke).attr('stroke-width', 0.9);
        g.append('text').attr('x', lx1 + 2).attr('y', ry + 4.5).text(name)
          .style('font-family', '"Liberation Mono", "DejaVu Sans Mono", monospace').style('font-weight', 700)
          .style('font-size', '13px').style('white-space', 'pre').attr('fill', '#1a1a1a');
      });
    });
  }, []);

  return (
    <svg ref={svgRef} width={W} height={H}
      style={{ position: 'absolute', left: 0, top: 0, display: 'block', background: '#fff' }} />
  );
}
